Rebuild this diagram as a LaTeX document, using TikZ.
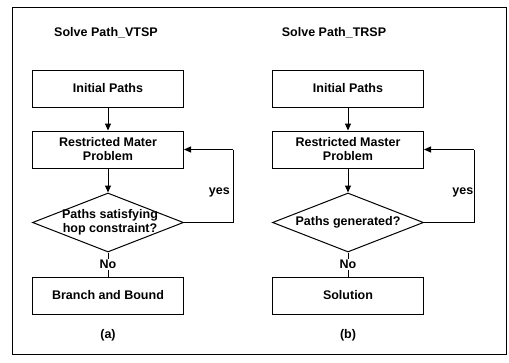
\documentclass[tikz,border=0pt]{standalone}
\usepackage{fontspec}
\setmainfont{Liberation Sans}
\usetikzlibrary{shapes.geometric,arrows.meta}
\begin{document}
\begin{tikzpicture}[x=1pt,y=-1pt,
  every node/.style={font=\fontsize{12.5}{14}\selectfont\bfseries},
  stepbox/.style={draw,line width=1pt,minimum width=151pt,minimum height=37pt,inner sep=1pt,align=center},
  decision/.style={draw,line width=1pt,diamond,minimum width=151pt,minimum height=59pt,inner sep=0pt},
  flow/.style={line width=1pt,-{Triangle[length=7pt,width=6pt]}},
  plain/.style={line width=1pt},
  lbl/.style={inner sep=1pt,align=center}]
\useasboundingbox (0,0) rectangle (509,362);
% outer frame
\draw[line width=1pt] (12,7) rectangle (506,354);

% ---- left flowchart (a)
\node[lbl] (ta) at (106,33) {Solve Path\_VTSP};
\node[stepbox] (ia) at (108,88.5) {Initial Paths};
\node[stepbox] (ra) at (108,149.5) {Restricted Mater\\Problem};
\node[decision] (da) at (108,222.5) {};
\node[lbl] (dta) at (110,222) {Paths satisfying\\hop constraint?};
\node[stepbox] (ba) at (108,295.5) {Branch and Bound};
\node[lbl] (ca) at (108,335) {(a)};
\coordinate (ya1) at (233,222.5);
\coordinate (ya2) at (233,149.5);
\draw[flow] (ia) -- (ra);
\draw[flow] (ra) -- (da);
\draw[plain] (da.east) -- (ya1) -- (ya2);
\draw[flow] (ya2) -- (ra.east);
\node[lbl,anchor=east] (yesa) at (231,192) {yes};
\draw[plain] (da.south) -- node[lbl,fill=white,pos=0.5] (noa) {No} (ba.north);

% ---- right flowchart (b)
\node[lbl] (tb) at (334,33) {Solve Path\_TRSP};
\node[stepbox] (ib) at (348,88.5) {Initial Paths};
\node[stepbox] (rb) at (348,149.5) {Restricted Master\\Problem};
\node[decision] (db) at (348,222.5) {};
\node[lbl] (dtb) at (348,222) {Paths generated?};
\node[stepbox] (sb) at (348,295.5) {Solution};
\node[lbl] (cb) at (348,335) {(b)};
\coordinate (yb1) at (474,222.5);
\coordinate (yb2) at (474,149.5);
\draw[flow] (ib) -- (rb);
\draw[flow] (rb) -- (db);
\draw[plain] (db.east) -- (yb1) -- (yb2);
\draw[flow] (yb2) -- (rb.east);
\node[lbl,anchor=east] (yesb) at (474.5,192) {yes};
\draw[plain] (db.south) -- node[lbl,fill=white,pos=0.5] (nob) {No} (sb.north);
\end{tikzpicture}
\end{document}
